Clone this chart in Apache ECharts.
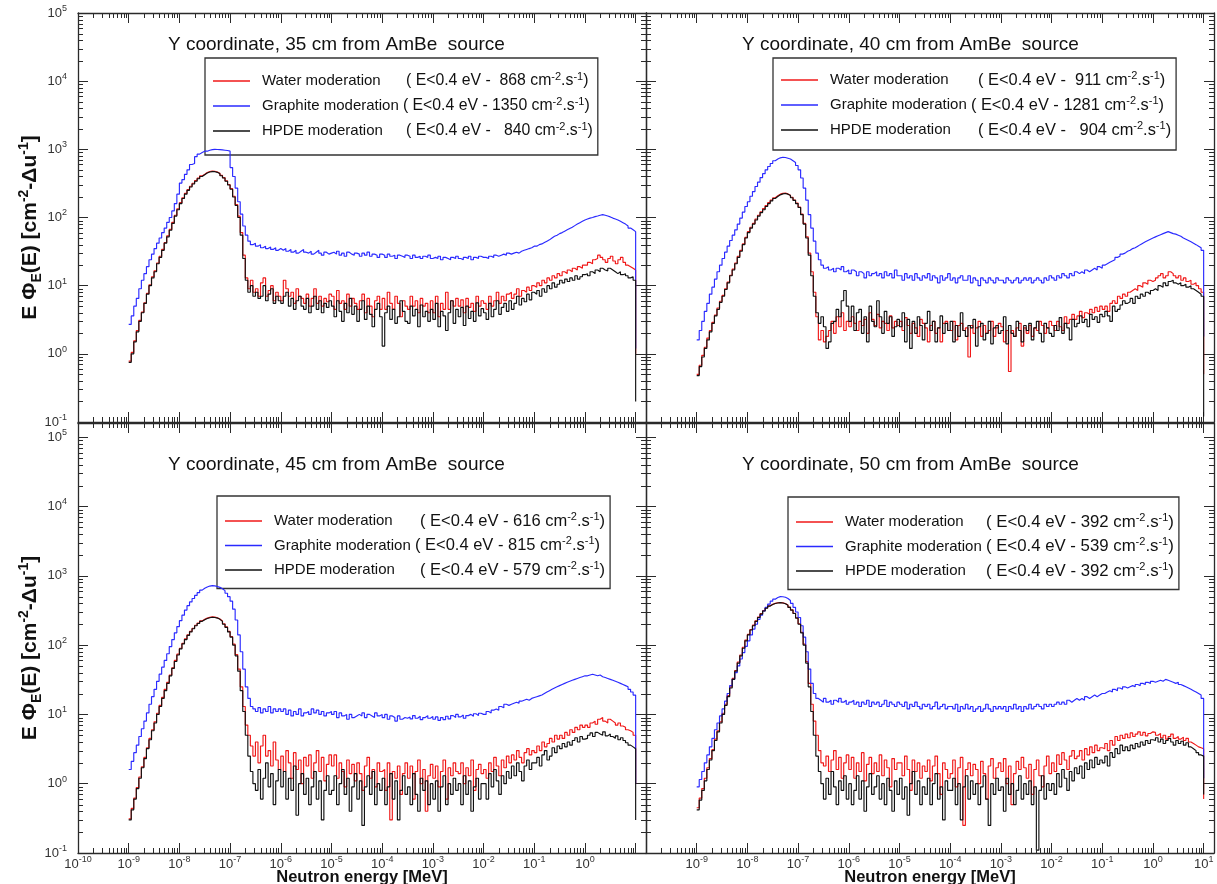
<!DOCTYPE html>
<html><head><meta charset="utf-8">
<script src="https://cdn.jsdelivr.net/npm/echarts@6/dist/echarts.min.js"></script>
<style>html,body{margin:0;padding:0;background:#fff}#c{width:1217px;height:884px}</style>
</head><body><div id="c"></div><script>
// ---------------- DATA ----------------
const seriesNames = ['Water moderation', 'Graphite moderation', 'HPDE moderation'];
const panelTitles = [
  'Y coordinate, 35 cm from AmBe  source',
  'Y coordinate, 40 cm from AmBe  source',
  'Y coordinate, 45 cm from AmBe  source',
  'Y coordinate, 50 cm from AmBe  source'
];
// thermal (E<0.4 eV) fluence rates, cm^-2.s^-1 : [water, graphite, HPDE]
const thermalFlux = [[868, 1350, 840], [911, 1281, 904], [616, 815, 579], [392, 539, 392]];
const fluxSpacing = [['  ', ' ', '   '], ['  ', ' ', '   '], [' ', ' ', ' '], [' ', ' ', ' ']];
const xTickExpLeft = [-10, -9, -8, -7, -6, -5, -4, -3, -2, -1, 0];
const xTickExpRight = [-9, -8, -7, -6, -5, -4, -3, -2, -1, 0, 1];
const yTickExp = [-1, 0, 1, 2, 3, 4, 5];

// histogram bins: 20 per decade from 1e-9 MeV to 1e1 MeV; 200 bin values + value after the last edge
const BINS_PER_DECADE = 20, FIRST_EDGE_EXP = -9, N_EDGES = 201;

// ---- 35 cm ----
const water35 = [
 0.78,1.05,1.55,2.2,3.1,4.1,5.6,7.7,10.3,13.5,
 16.5,21.5,27,34,43,54,67,85,108,134,
 165,195,226,256,287,318,348,378,408,432,
 458,472,480,476,466,445,415,385,345,305,
 265,205,155,105,60,28,13,9,12,8,
 9,7,11,13,7,8.5,10,6,8,7,
 6,12,9,7,8,5.5,9,7,6.5,5.5,
 7.5,5,6.5,9,5.5,7,5,6.5,5.8,7.5,
 7,4.5,8.5,5.5,6,4.5,7.5,5,6.5,5.5,
 4.5,6,7.5,4,6.5,5,3.5,6,7,4.5,
 6.5,4.5,8,5.5,4.5,7,5.5,3.5,6,5,
 4.5,7,5,6,4,6.5,5,5.5,4,6,
 4,7,3.5,5.5,4.5,8,4.5,6,5,6.5,
 5,6.2,4,6.5,4.8,5.5,4.2,7,5,6,
 5.5,4.5,7,5,6,8,5.5,7,6,7.5,
 8,6.5,7.5,9,7,8.5,8,9.5,8.5,10,
 9.5,11,10,12,11,13,12,14,13,15,
 14,16,15,17,16,18,17,19,18,20,
 20,22,21,24,25,28,26,24,22,25,
 27,23,21,24,26,22,20,19,18,17,
 1];
const graphite35 = [
 2.7,3.6,5,6.5,9,12,15,19,24,29,
 35,42,50,60,70,85,100,125,160,220,
 320,360,430,500,600,620,780,850,900,940,
 940,970,990,1000,995,990,980,970,960,940,
 540,400,270,170,112,75,55,45,40,42,
 38,40,36,38,35,37,34,36,33,35,
 33,35,32,34,31,33,30,32,34,31,
 30,32,29,31,33,30,28,31,29,30,
 31,29,32,28,30,27,31,29,28,30,
 29,27,30,28,31,27,29,28,26,29,
 28,26,29,27,28,25,28,27,26,28,
 27,25,28,26,27,25,27,26,28,25,
 26,25,27,24,26,25,24,26,25,27,
 25,24,26,25,27,24,26,25,27,26,
 26,25,27,26,28,27,28,29,28,30,
 29,30,31,30,32,33,34,35,36,38,
 38,40,41,43,45,47,50,53,55,58,
 60,63,66,69,72,76,80,84,88,92,
 95,98,100,103,105,108,110,108,105,102,
 98,95,92,88,84,80,75,70,66,62,
 1.2];
const hpde35 = [
 0.75,1.0,1.5,2.1,3.0,4.0,5.5,7.5,10,13,
 16,21,26,33,42,52,65,82,105,130,
 160,190,220,250,280,310,340,370,400,425,
 450,465,472,470,460,440,410,380,340,300,
 260,200,150,100,55,25,12,8,10,7,
 8,6.5,7,10,6,7.5,9,5.5,7,6,
 5.5,7,8,5,6.5,4.5,6,7,5,4.5,
 6.5,4,5,7,4.5,6,4,5.5,4.8,6,
 5,3.5,6,4.2,3,5.5,4,6.5,3.8,5,
 3,4.5,6,3.2,5,3.8,2.5,4.5,5.5,3.5,
 1.3,4,5,3.2,4.5,2.8,3.5,6,4.2,3,
 2.8,5,3.6,4.5,2.5,5.2,3.5,4.2,3,4.5,
 3.2,5.5,2.5,4.2,3.6,2.2,4,6,2.8,4.5,
 3.5,4.8,2.6,5,3.3,4.2,3,5.6,3.6,4.6,
 4,3.2,5.5,3.5,4.5,6,3.8,4.8,5.5,4.2,
 6,4.5,5.5,7,5.2,6.5,5.8,7.5,6.2,8,
 7.5,8.5,7,9,8,10,9,11,9.5,10.5,
 12,11,12.5,11.5,13,12,14,12.5,13.5,14.5,
 15,14,16,15,17,16,18,17,16.5,18,
 17,16,15,16,14.5,15,14,13,13.5,12,
 0.2];
// ---- 40 cm ----
const water40 = [
 0.5,0.68,0.95,1.25,1.7,2.2,2.9,3.7,4.7,5.9,
 7.2,9,11.3,14.2,17.5,21.5,27,33,41,51,
 62,72,82,95,108,121,135,150,165,180,
 195,208,220,226,228,222,212,198,180,163,
 142,112,82,52,30,16,8,3.5,1.6,2.2,
 1.5,1.8,2.2,3,2,3.5,2.5,4,2.2,3,
 2.5,3.5,2.8,2.2,3,2.6,3.2,2,4,3.2,
 2.6,3.8,2.4,3,2.8,2.2,3.6,2.4,3,2.6,
 3,2.2,3.4,2.6,2,2.8,2.4,1.8,3.2,2.8,
 2.4,1.5,2.6,3,2,2.4,1.5,2.8,3,2.2,
 2.2,3,1.6,2.6,2.8,2.2,2.4,0.9,2.6,2,
 2.4,3,1.8,2.6,2,2.2,3,1.8,2.4,2.8,
 2.5,1.5,2.2,0.55,2.2,1.8,2.4,2.8,1.3,2.4,
 2,2.6,1.8,2.4,2.2,3,2.6,2,2.4,3,
 2.6,2.2,3,2.5,2.2,3.5,2.8,3.2,3.8,3.2,
 3.6,4.2,3.4,4,3.8,4.5,4,4.8,4.2,5,
 4.5,5,4.2,5.5,6,5.5,7,6.5,7.5,7,
 8,8.5,9,8.5,10,9.5,11,10.5,12,11.5,
 12,13,14,15,13,14,16,15,14,13,
 14,12,13,11.5,12,10.5,11,10,9,8,
 0.5];
const graphite40 = [
 1.6,2.2,3,4.2,5.5,7.5,9.5,12.5,16,20,
 25,31,38,46,55,66,80,98,120,145,
 170,205,240,285,330,385,440,500,560,620,
 680,720,750,765,760,740,720,680,640,580,
 500,380,270,180,110,70,45,30,24,20,
 18,19,17,18,16,18,17,19,16,17,
 15,17,16,14,16,15,13,16,14,15,
 16,14,15,13,16,14,15,13,17,14,
 14,12,15,13,14,12,15,13,12,14,
 13,15,12,14,13,11,14,12,13,15,
 12,13,11,13,14,12,12,14,11,13,
 12,10,13,12,11,13,12,11,13,12,
 12,11,13,12,11,12,13,11,12,13,
 12,13,11,12,13,12,11,13,12,14,
 13,12,14,13,15,14,13,15,14,16,
 15,16,15,17,16,17,18,17,19,18,
 20,21,22,23,24,26,27,29,30,32,
 33,35,36,38,40,42,44,46,48,50,
 52,54,56,58,60,62,60,58,57,55,
 53,50,48,46,44,42,40,38,36,33,
 1.8];
const hpde40 = [
 0.48,0.65,0.9,1.2,1.6,2.1,2.8,3.6,4.5,5.7,
 7,8.8,11,14,17,21,26,32,40,50,
 60,70,80,92,105,118,130,145,160,175,
 190,203,215,222,225,220,210,195,178,160,
 140,110,80,50,28,14,7,4,2.8,3.5,
 2.5,1.2,1.5,2.8,3,4.5,3.5,6,8.5,5,
 3,5,2.2,4,4.5,2,3.5,1.5,5,3,
 2.5,6,3.5,2,4.2,2.8,3.5,1.8,2.5,3.2,
 2.5,4,1.5,3.2,1.2,3,2,3.5,2.6,1.6,
 2.8,4.2,2.2,3,1.5,2.4,3.6,2,2.8,2.2,
 3,1.5,2.6,1.8,4,2.2,1.8,2.6,2.4,3.2,
 1.3,2.5,2.8,1.6,2,3,1.4,2.4,2.6,2,
 2.2,3.5,1.4,2.6,2,1.8,3,2.2,1.5,2.6,
 2.2,2.8,1.6,2.4,3,2,1.5,2.8,2.4,2,
 1.8,2.6,2.2,3.4,2,2.8,2.4,1.6,3.2,2.5,
 2.8,3.6,2.9,3.2,2.5,3.8,3.2,3.5,2.9,3.8,
 3.5,4.2,3.6,3,5,4.2,4.5,5.2,6,5.5,
 5.8,6.5,5.5,7,6.5,7.5,7,8,7.5,8.5,
 9,8.5,10,9.5,11,10,11.5,12,11,10.5,
 11,10,10.5,9.5,10,9,8.5,8,7.5,7,
 0.12];
// ---- 45 cm ----
const water45 = [
 0.31,0.44,0.62,0.88,1.25,1.75,2.4,3.3,4.5,6,
 7.8,10.4,13.5,17.6,23,29,37,47,60,74,
 90,106,123,141,158,175,193,208,223,235,
 245,251,255,253,248,238,223,203,183,158,
 133,103,73,45,25,13,7,5,3.5,2.5,
 4,2,3.5,5,2.5,3,1.8,4,2.2,1.6,
 2.5,1.5,3,2,1.2,2.8,1.6,2.2,1,2.4,
 1.8,2.6,1.2,2,3,1.5,2.4,1.1,1.9,2.6,
 1.8,2.6,1.2,2,1.5,0.9,2.2,1.4,1.9,1.1,
 2,1.4,0.8,1.8,2.4,1.2,1.6,0.9,2,1.5,
 1.6,0.8,2,0.3,1.5,1.2,1.8,0.7,1.4,2,
 1.2,1.8,0.6,1.5,2.2,1,1.6,0.4,1.3,1.9,
 1.2,1.8,0.9,1.5,2.2,0.6,1.7,1.3,2,1.5,
 1.4,2,1,1.7,1.3,2.2,0.8,1.6,1.9,1.4,
 1.6,1.2,2,1.5,2.4,1.8,1.3,2.2,1.7,2.5,
 2,2.6,2.2,3,2.4,2,2.8,3.2,2.6,3,
 2.8,3.5,3,4,3.4,3.8,4.5,4,5,4.4,
 5,4.5,5.5,5,6,5.5,6.5,6,7,6.5,
 7,6.5,7.5,8,7.2,8.5,9,8,7.5,8.5,
 8,7.5,7,7.5,6.8,6.5,6,5.8,5.5,5,
 1];
const graphite45 = [
 1.6,2.1,2.8,3.6,4.8,6.2,8,10.5,14,18,
 23,30,38,48,60,75,95,120,150,185,
 225,270,320,370,420,470,520,570,620,660,
 690,710,720,715,700,680,650,610,560,500,
 430,330,230,140,80,45,25,17,13,12,
 11,12.5,10.5,12,11,13,10.5,12,11,12,
 11,12,10,11.5,9.5,11,10,12,9.5,10.5,
 11,10,12,10.5,11.5,10,11,9.5,10.5,11,
 10,11,9,10.5,9.5,10,8.5,10,9,9.5,
 10,9.5,10.5,9,10,9.5,9,10.5,9.5,10,
 9,10,8.5,9.5,9,8,9.5,8.5,9,8.8,
 9.2,8.6,9.6,8.8,9.4,8.4,9,9.6,8.8,9.3,
 8.5,9.2,8.2,9,8.4,9.4,8.6,9.6,9,10,
 9.2,9.8,8.8,9.6,10,9.4,10.2,9.6,10.4,10,
 10,11,10.5,11.5,12,11.5,13,12.5,14,13.5,
 14,14.5,15,14.5,15.5,16,16.5,16,17,17.5,
 18,18.5,19,20,21,22,23,24,25,26,
 27,28,29,30,31,32,33,34,35,36,
 36,37,38,37,36,37,35,34,33,32,
 31,30,29,28,27,26,25,23,21,19,
 1];
const hpde45 = [
 0.3,0.42,0.6,0.85,1.2,1.7,2.3,3.2,4.3,5.8,
 7.5,10,13,17,22,28,36,46,58,72,
 88,104,120,138,155,172,190,205,220,232,
 242,248,252,250,245,235,220,200,180,155,
 130,100,70,42,22,11,5,2.5,1.5,1,
 0.8,1.6,0.6,1.2,2,0.9,1.4,0.5,1.1,1.6,
 0.9,1.5,0.6,1.2,0.8,1.8,0.35,1,1.4,0.7,
 1.2,0.5,0.9,1.5,0.6,1.1,0.3,0.8,1.3,0.7,
 0.8,1.3,0.5,1,1.6,0.7,1.2,0.4,0.9,1.4,
 0.6,1.1,0.25,0.9,1.3,0.7,1.5,0.5,1,0.8,
 1.2,0.5,0.9,1.4,0.6,1.1,0.3,0.8,1.3,0.7,
 0.9,0.5,1.4,0.7,0.4,1.2,0.8,1.1,0.5,1,
 0.6,1.1,0.4,0.9,1.3,0.5,1,0.7,1.2,0.8,
 1,0.5,1.3,0.7,1.1,0.4,0.9,1.2,0.6,1,
 1,0.6,1.4,0.9,1.6,1.1,0.7,1.3,1,1.5,
 1.2,1.8,1.3,2,1.5,1.1,1.8,2.2,1.6,2,
 2,2.4,1.8,2.6,3,2.2,2.5,3.3,2.8,3.5,
 3.2,3.8,3.4,4,3.6,4.2,4.6,4,4.8,4.4,
 4.5,5,5.4,4.8,5.5,5.2,5,5.6,4.9,5.2,
 4.8,4.5,4.9,4.3,4.6,4.2,3.9,3.6,3.4,3.2,
 0.3];
// ---- 50 cm ----
const water50 = [
 0.45,0.62,0.85,1.2,1.7,2.3,3.1,4.4,5.8,7.8,
 10.4,14,18.7,25,33,43,57,72,93,118,
 143,168,194,224,254,284,314,344,368,388,
 400,408,412,407,397,378,352,322,287,248,
 203,153,103,58,28,14,8,5,3,2,
 1.8,2.5,1.5,2.2,3,1.6,2.4,1.2,2,2.6,
 1.6,2.4,1.2,2,1.5,2.8,1.1,1.9,2.4,1.4,
 2,1.5,2.6,1.3,2.2,1.7,0.9,2.3,1.6,2,
 2,1.3,2.5,1.6,0.8,2.2,1.5,2,1.2,1.8,
 1.5,2.2,1.1,1.8,2.5,1.4,0.7,2,1.6,1.2,
 1.4,2.2,0.9,1.7,2.4,0.25,1.6,2,1.3,1.9,
 1.6,1,2.1,1.4,0.6,1.8,2.3,1.2,1.7,2,
 1.5,2.3,1,1.8,0.5,1.4,2.1,1.6,2.4,1.7,
 1.2,1.9,0.7,1.6,2.2,1.3,0.9,1.8,2.5,1.4,
 2,1.5,2.6,1.9,2.8,2.2,1.6,2.5,3,2.3,
 2.5,3,2.2,3.2,2.6,3.4,2.8,3.6,3,3.3,
 3.2,3.8,3,4.2,3.6,4.8,4.2,5,4.5,5.2,
 4.6,5.4,4.8,5.2,5.6,5,5.5,4.9,5.3,5.6,
 5.5,5,5.3,4.6,5,4.4,4.8,5.2,4.5,4.8,
 4.4,4.7,4.2,4.5,4,3.8,3.6,3.4,3.3,3.2,
 0.6];
const graphite50 = [
 0.9,1.15,1.5,2,2.6,3.4,4.5,6,7.5,9.5,
 12,15.5,20,26,32,40,50,63,78,96,
 115,140,170,200,235,270,310,350,390,430,
 460,485,500,498,490,470,440,400,350,300,
 250,190,130,80,45,28,20,17,16,15,
 17,15,16,14,16,15,17,15,16,14,
 15,16,14,15,13,15,14,16,13,15,
 14,15,13,14,16,13,15,14,13,15,
 14,13,15,12,14,13,15,13,12,14,
 13,14,12,13,15,12,13,14,12,13,
 13,12,14,11,13,12,14,12,13,11,
 12,13,11,12,14,12,11,13,12,13,
 12,13,11,13,12,14,12,13,11,13,
 12,14,12,13,14,13,12,14,13,14,
 13,14,15,14,15,14,16,15,16,17,
 16,17,16,18,17,18,19,18,19,20,
 20,21,22,21,23,22,24,23,25,24,
 25,26,25,27,26,28,27,29,28,30,
 29,30,31,30,32,31,30,29,28,29,
 27,26,25,24,23,22,21,20,19,17,
 1.2];
const hpde50 = [
 0.42,0.58,0.8,1.1,1.6,2.2,3,4.2,5.6,7.5,
 10,13.5,18,24,32,42,55,70,90,115,
 140,165,190,220,250,280,310,340,365,385,
 398,405,410,405,395,375,350,320,285,245,
 200,150,100,55,25,11,5,2.5,1.5,1,
 0.6,1.2,0.7,1.5,0.9,0.5,1.1,0.8,1.3,0.6,
 1,0.5,0.8,1.3,0.6,1.1,0.4,0.9,1.4,0.7,
 0.9,1.3,0.6,1,0.5,1.2,0.8,0.4,1.1,0.7,
 1.2,0.6,0.9,0.35,1,1.5,0.7,1.1,0.5,0.9,
 0.7,1.2,0.5,1,1.4,0.6,0.9,0.3,1.1,0.8,
 0.8,1.2,0.5,1,0.3,0.9,1.3,0.6,1.1,0.7,
 1,0.5,0.9,1.3,0.6,0.25,1,0.7,1.2,0.8,
 0.9,0.4,1.2,0.7,1,0.5,0.8,1.3,0.6,1,
 0.7,1.1,0.5,0.9,0.11,0.8,1.3,0.6,1,0.8,
 1,0.7,1.4,0.9,1.6,1.2,0.8,1.5,1.1,1.7,
 1.4,1.8,1.2,2,1.6,2.2,1.7,2.4,1.9,2.2,
 2,2.5,1.8,2.8,2.4,3.2,2.7,3.6,3,3.4,
 3,3.6,3.2,3.8,3.4,4,3.6,4.2,3.8,4.3,
 4.2,4.6,4,4.4,3.8,4.2,4.5,4,3.6,4.2,
 3.8,4.1,3.6,3.9,3.4,3.2,3,2.8,2.6,2.5,
 0.7];

const panelData = [
  [water35, graphite35, hpde35],
  [water40, graphite40, hpde40],
  [water45, graphite45, hpde45],
  [water50, graphite50, hpde50]
];

// ---------------- LAYOUT / STYLE ----------------
const FONT = "'Liberation Sans', Arial, Helvetica, sans-serif";
const AXIS_COLOR = '#2a2a2a';
const lineColors = ['#f01818', '#2a2aff', '#111111'];
const X_MIN = 1e-10, X_MAX = 16;
const yMaxes = [1e5, 1e5, 1.6e5, 1.6e5];
const gridRects = [[78, 13, 568, 409], [646, 13, 568, 409], [78, 423, 568, 430], [646, 423, 568, 430]];
const titlePos = [[168, 35], [742, 35], [168, 455], [742, 455]];
const legendPos = [[205, 58], [773, 58], [217, 496], [788, 497]];
const legendPad = [[13, 5, 16, 8], [12, 5, 12, 8], [15, 5, 10, 8], [15, 5, 10, 8]];
const legendGap = [7, 7, 6, 6];
const nameWidths = [144, 148, 146, 141];
const infoFont = [15.8, 16.4, 16.5, 16.8];
const MINOR_MULT = [2, 3, 4, 5, 6, 7, 8, 9];

const binEdges = Array.from({length: N_EDGES}, (_, i) => Math.pow(10, FIRST_EDGE_EXP + i / BINS_PER_DECADE));
function histPoints(vals) { return vals.map((v, i) => [binEdges[i], v]); }

const TICK_RICH = {
  b: {fontSize: 13, lineHeight: 18, color: '#333', fontFamily: FONT},
  s: {fontSize: 9, verticalAlign: 'top', color: '#333', fontFamily: FONT}
};
function powLabel(v, exps) {
  const e = Math.log10(v), r = Math.round(e);
  if (Math.abs(e - r) > 1e-6 || exps.indexOf(r) < 0) return '';
  return '{b|10}{s|' + r + '}';
}

const xAxes = [], yAxes = [], series = [];
gridRects.forEach((r, g) => {
  const isBottom = g >= 2, isLeft = g % 2 === 0;
  const xExps = isLeft ? xTickExpLeft : xTickExpRight;
  const common = {
    gridIndex: g, logBase: 10, type: 'log', interval: 1,
    splitLine: {show: false}, minorTick: {show: false}, minorSplitLine: {show: false},
    axisLine: {show: true, onZero: false, lineStyle: {color: AXIS_COLOR, width: 1.3}},
    axisTick: {show: true, inside: true, length: 10, lineStyle: {color: AXIS_COLOR, width: 1}},
    axisPointer: {show: false}, nameMoveOverlap: false
  };
  xAxes.push(Object.assign({}, common, {
    position: 'bottom', min: X_MIN, max: X_MAX,
    axisLabel: {show: isBottom, margin: 2, formatter: v => powLabel(v, xExps), rich: TICK_RICH},
    name: isBottom ? 'Neutron energy [MeV]' : '', nameLocation: 'middle', nameGap: 16,
    nameTextStyle: {fontSize: 16.5, fontWeight: 'bold', color: '#111', fontFamily: FONT}
  }));
  xAxes.push(Object.assign({}, common, {
    position: 'top', min: X_MIN, max: X_MAX, axisLabel: {show: false}
  }));
  yAxes.push(Object.assign({}, common, {
    position: 'left', min: 0.1, max: yMaxes[g],
    axisLabel: {show: isLeft, margin: 11, formatter: v => powLabel(v, yTickExp), rich: TICK_RICH},
    name: isLeft ? '{b|E Φ}{sub|E}{b|(E) [cm}{sup|-2}{b|-Δu}{sup|-1}{b|]}' : '',
    nameLocation: 'middle', nameRotate: 90, nameGap: 34,
    nameTextStyle: {
      fontSize: 21, fontWeight: 'bold', color: '#111', fontFamily: FONT, padding: [0, 20, 0, 0],
      rich: {
        b: {fontSize: 21, fontWeight: 'bold', lineHeight: 27, color: '#111', fontFamily: FONT},
        sup: {fontSize: 14, fontWeight: 'bold', verticalAlign: 'top', color: '#111', fontFamily: FONT},
        sub: {fontSize: 14, fontWeight: 'bold', verticalAlign: 'bottom', color: '#111', fontFamily: FONT}
      }
    }
  }));
  yAxes.push(Object.assign({}, common, {
    position: 'right', min: 0.1, max: yMaxes[g], axisLabel: {show: false}
  }));

  // histogram series: graphite, water, HPDE (HPDE on top)
  [1, 0, 2].forEach(k => {
    series.push({
      type: 'line', name: seriesNames[k], xAxisIndex: 2 * g, yAxisIndex: 2 * g,
      data: histPoints(panelData[g][k]), step: 'end', symbol: 'none', showSymbol: false,
      lineStyle: {color: lineColors[k], width: 1.15}, itemStyle: {color: lineColors[k]},
      silent: true, z: 3 + k
    });
  });

  // log minor ticks on all four sides of the panel
  const tickData = [];
  for (let n = -10; n <= 1; n++) MINOR_MULT.forEach(m => {
    const v = m * Math.pow(10, n); if (v < X_MAX) tickData.push([v, 1, 0]);
  });
  for (let n = -1; n <= 5; n++) MINOR_MULT.forEach(m => {
    const v = m * Math.pow(10, n); if (v < yMaxes[g]) tickData.push([1e-5, v, 1]);
  });
  series.push({
    type: 'custom', xAxisIndex: 2 * g, yAxisIndex: 2 * g, silent: true, z: 10,
    data: tickData,
    renderItem: function (params, api) {
      const cs = params.coordSys, L = 5;
      const st = {stroke: AXIS_COLOR, lineWidth: 1};
      const p = api.coord([api.value(0), api.value(1)]);
      if (api.value(2) === 0) {
        const x = Math.round(p[0]) + 0.5;
        return {type: 'group', children: [
          {type: 'line', shape: {x1: x, y1: cs.y + cs.height, x2: x, y2: cs.y + cs.height - L}, style: st},
          {type: 'line', shape: {x1: x, y1: cs.y, x2: x, y2: cs.y + L}, style: st}
        ]};
      }
      const y = Math.round(p[1]) + 0.5;
      return {type: 'group', children: [
        {type: 'line', shape: {x1: cs.x, y1: y, x2: cs.x + L, y2: y}, style: st},
        {type: 'line', shape: {x1: cs.x + cs.width, y1: y, x2: cs.x + cs.width - L, y2: y}, style: st}
      ]};
    }
  });
});

const titles = panelTitles.map((t, g) => ({
  text: t, left: titlePos[g][0], top: titlePos[g][1], padding: 0,
  textStyle: {fontSize: 19, fontWeight: 'normal', color: '#111', fontFamily: FONT}
}));

const legends = gridRects.map((r, g) => ({
  show: true, orient: 'vertical', left: legendPos[g][0], top: legendPos[g][1],
  padding: legendPad[g], itemGap: legendGap[g], itemWidth: 37, itemHeight: 1.6, icon: 'rect',
  selectedMode: false, borderColor: '#333', borderWidth: 1.3,
  data: seriesNames.slice(),
  formatter: function (name) {
    const k = seriesNames.indexOf(name);
    const nameTok = k === 1 ? '{g|' + name + ' }' : '{n|' + name + '}';
    return nameTok + '{t|( E<0.4 eV -' + fluxSpacing[g][k] + thermalFlux[g][k] + ' cm}{s|-2}{t|.s}{s|-1}{t|)}';
  },
  textStyle: {
    color: '#111', fontFamily: FONT, fontSize: 15,
    rich: {
      n: {width: nameWidths[g], padding: [0, 0, 0, 7], fontSize: 15, lineHeight: 20, fontFamily: FONT, color: '#111'},
      g: {padding: [0, 0, 0, 7], fontSize: 15, lineHeight: 20, fontFamily: FONT, color: '#111'},
      t: {fontSize: infoFont[g], lineHeight: 20, fontFamily: FONT, color: '#111'},
      s: {fontSize: 11, verticalAlign: 'top', fontFamily: FONT, color: '#111'}
    }
  }
}));

const chart = echarts.init(document.getElementById('c'), null, {renderer: 'canvas'});
chart.setOption({
  animation: false,
  backgroundColor: '#ffffff',
  textStyle: {fontFamily: FONT},
  title: titles,
  legend: legends,
  grid: gridRects.map(r => ({left: r[0], top: r[1], width: r[2], height: r[3], containLabel: false, outerBoundsMode: 'none'})),
  xAxis: xAxes,
  yAxis: yAxes,
  series: series
});
</script></body></html>
